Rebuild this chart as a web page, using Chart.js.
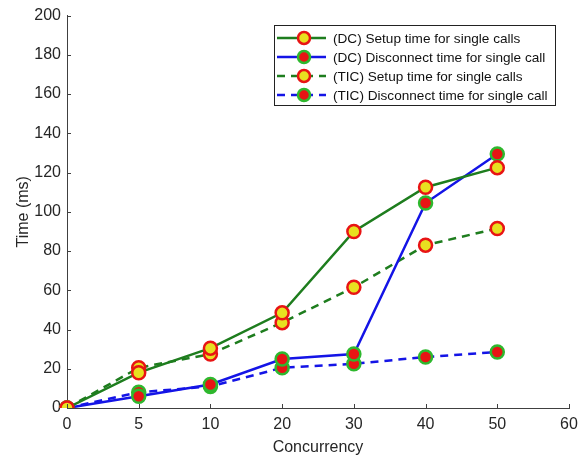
<!DOCTYPE html>
<html>
<head>
<meta charset="utf-8">
<script src="https://cdn.jsdelivr.net/npm/chart.js@4.4.0/dist/chart.umd.min.js"></script>
<style>
  html, body { margin: 0; padding: 0; background: #fff; }
  #wrap { width: 585px; height: 457px; position: relative; }
</style>
</head>
<body>
<div id="wrap"><canvas id="chart"></canvas></div>
<script>
// concurrency levels (x axis is evenly spaced, matlab style)
var concurrency = ['0', '5', '10', '20', '30', '40', '50', '60'];
var yTicks = [0, 20, 40, 60, 80, 100, 120, 140, 160, 180, 200];

// times in ms
var dcSetup = [0, 18, 30.5, 48.5, 90, 112.5, 122.5];
var dcDisconnect = [0, 6, 12, 25, 27.5, 104.5, 129.5];
var ticSetup = [0, 20.5, 27.5, 43.5, 61.5, 83, 91.5];
var ticDisconnect = [0, 8, 11, 20.5, 22.5, 26, 28.5];

var labels = [
    '(DC) Setup time for single calls',
    '(DC) Disconnect time for single call',
    '(TIC) Setup time for single calls',
    '(TIC) Disconnect time for single call'
];

var GREEN = '#1e7d1e';
var BLUE = '#1414e6';
var YELLOW = '#e8e020';
var RED = '#e81414';
var MGREEN = '#2eb82e';
var AXIS = '#404040';
var FONT = '"Liberation Sans", Arial, sans-serif';

function makeSet(label, data, line, fill, edge, dashed) {
    return {
        label: label,
        data: data,
        borderColor: line,
        borderWidth: 2.5,
        borderDash: dashed ? [8, 6] : [],
        pointRadius: 6.5,
        pointBorderWidth: 2.5,
        pointBackgroundColor: fill,
        pointBorderColor: edge,
        tension: 0,
        fill: false
    };
}

// inward tick marks + boxed legend
var matlabish = {
    id: 'matlabish',
    afterDraw: function (chart) {
        var ctx = chart.ctx;
        var xs = chart.scales.x, ys = chart.scales.y;
        var area = chart.chartArea;
        ctx.save();
        ctx.strokeStyle = AXIS;
        ctx.lineWidth = 1;
        ctx.beginPath();
        for (var i = 0; i < concurrency.length; i++) {
            var px = Math.round(xs.getPixelForValue(i)) + 0.5;
            ctx.moveTo(px, area.bottom);
            ctx.lineTo(px, area.bottom - 4);
        }
        yTicks.forEach(function (v) {
            var py = Math.round(ys.getPixelForValue(v)) + 0.5;
            ctx.moveTo(area.left, py);
            ctx.lineTo(area.left + 4, py);
        });
        ctx.stroke();

        // legend
        var bx = 274.5, by = 25.5, bw = 281, bh = 80;
        ctx.fillStyle = '#fff';
        ctx.fillRect(bx, by, bw, bh);
        ctx.strokeStyle = '#222';
        ctx.strokeRect(bx, by, bw, bh);
        ctx.font = '13.6px ' + FONT;
        ctx.textBaseline = 'middle';
        chart.data.datasets.forEach(function (ds, k) {
            var ry = 38 + k * 19;
            ctx.strokeStyle = ds.borderColor;
            ctx.lineWidth = 2.5;
            ctx.setLineDash(ds.borderDash);
            ctx.beginPath();
            ctx.moveTo(277, ry);
            ctx.lineTo(326, ry);
            ctx.stroke();
            ctx.setLineDash([]);
            ctx.beginPath();
            ctx.arc(304, ry, 6, 0, Math.PI * 2);
            ctx.fillStyle = ds.pointBackgroundColor;
            ctx.fill();
            ctx.strokeStyle = ds.pointBorderColor;
            ctx.lineWidth = 2.5;
            ctx.stroke();
            ctx.fillStyle = '#111';
            ctx.fillText(ds.label, 333, ry + 1);
        });
        ctx.restore();
    }
};

var chart = new Chart(document.getElementById('chart'), {
    type: 'line',
    data: {
        labels: concurrency,
        datasets: [
            makeSet(labels[0], dcSetup, GREEN, YELLOW, RED, false),
            makeSet(labels[1], dcDisconnect, BLUE, RED, MGREEN, false),
            makeSet(labels[2], ticSetup, GREEN, YELLOW, RED, true),
            makeSet(labels[3], ticDisconnect, BLUE, RED, MGREEN, true)
        ]
    },
    options: {
        responsive: true,
        maintainAspectRatio: false,
        animation: false,
        layout: { padding: { left: 0, right: 16, top: 15, bottom: 0 } },
        plugins: {
            legend: { display: false },
            tooltip: { enabled: false }
        },
        scales: {
            x: {
                type: 'category',
                offset: false,
                grid: { display: true, drawOnChartArea: false, drawTicks: false },
                border: { display: true, color: AXIS, width: 1 },
                ticks: {
                    color: '#262626',
                    font: { family: FONT, size: 16 },
                    padding: 7,
                    maxRotation: 0,
                    autoSkip: false
                },
                title: {
                    display: true,
                    text: 'Concurrency',
                    color: '#262626',
                    font: { family: FONT, size: 16 },
                    padding: { top: 0, bottom: 0 }
                },
                afterFit: function (s) { s.height = 49; }
            },
            y: {
                min: 0,
                max: 200,
                grid: { display: true, drawOnChartArea: false, drawTicks: false },
                border: { display: true, color: AXIS, width: 1 },
                ticks: {
                    stepSize: 20,
                    color: '#262626',
                    font: { family: FONT, size: 16 },
                    padding: 6
                },
                title: {
                    display: true,
                    text: 'Time (ms)',
                    color: '#262626',
                    font: { family: FONT, size: 16 },
                    padding: { top: 14, bottom: 0 }
                },
                afterFit: function (s) { s.width = 67; }
            }
        }
    },
    plugins: [matlabish]
});
</script>
</body>
</html>
